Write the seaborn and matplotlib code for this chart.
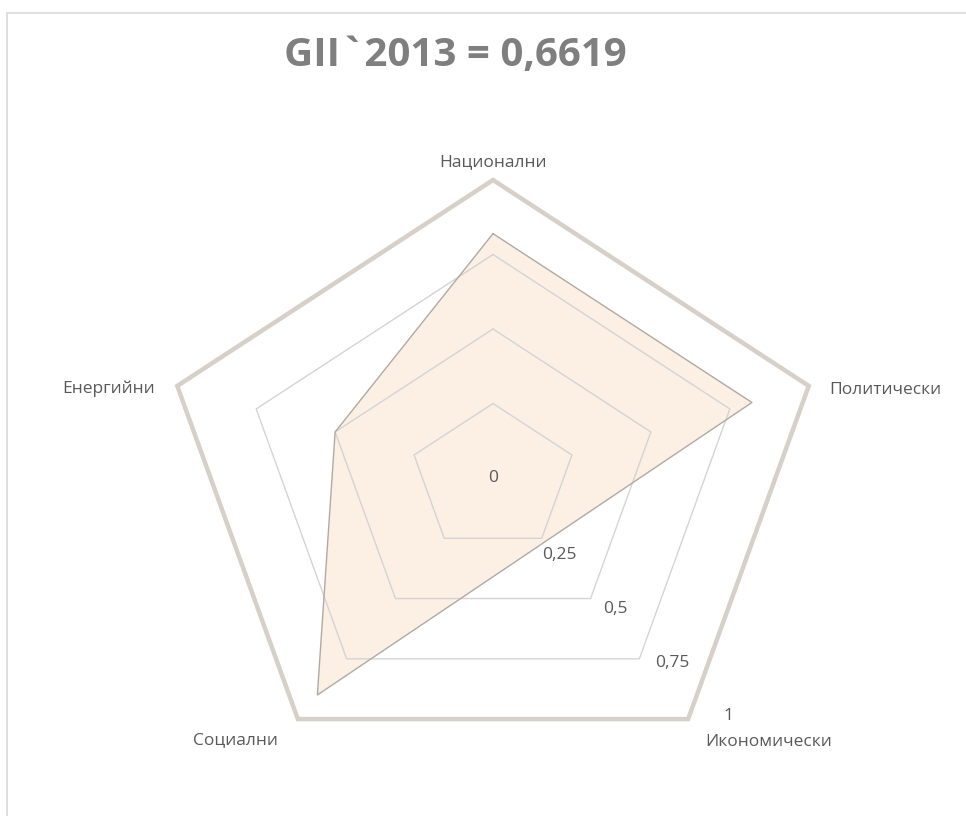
import numpy as np
import matplotlib
matplotlib.use("Agg")
import matplotlib.pyplot as plt
import seaborn as sns

# data
categories = ["Национални", "Политически", "Икономически", "Социални", "Енергийни"]
values = [0.82, 0.82, np.nan, 0.90, 0.50]   # Икономически has no value (line skips it)
grid_levels = [0.25, 0.5, 0.75, 1.0]
tick_values = [0, 0.25, 0.5, 0.75, 1]
tick_labels = ["0", "0,25", "0,5", "0,75", "1"]
title = "GII`2013 = 0,6619"

sns.set_style("white")
plt.rcParams["font.family"] = ["Open Sans", "DejaVu Sans"]

fig = plt.figure(figsize=(9.66, 8.16), dpi=100)
ax = fig.add_axes([0, 0, 1, 1])

# pixel geometry of the picture: centre (493, 478), radius 332 x 298 px
cx, cy, rx, ry = 493, 478, 332, 298
ax.set_xlim(-cx / rx, (966 - cx) / rx)
ax.set_ylim((cy - 816) / ry, cy / ry)
ax.axis("off")

n = len(categories)
angles = np.pi / 2 - 2 * np.pi * np.arange(n) / n   # clockwise from top
ux, uy = np.cos(angles), np.sin(angles)

# grid pentagons
for lvl in grid_levels:
    xs = np.append(ux, ux[0]) * lvl
    ys = np.append(uy, uy[0]) * lvl
    if lvl == 1.0:
        ax.plot(xs, ys, color="#d6d0c8", lw=3.2, solid_joinstyle="miter", zorder=3)
    else:
        ax.plot(xs, ys, color="#d4d4d4", lw=1.0, zorder=1)

# data series (skip missing value)
vals = np.array(values)
mask = ~np.isnan(vals)
px = (ux * np.nan_to_num(vals))[mask]
py = (uy * np.nan_to_num(vals))[mask]
ax.fill(px, py, facecolor="#fbe5d3", alpha=0.6, edgecolor="none", zorder=0)
ax.plot(np.append(px, px[0]), np.append(py, py[0]), color="#b0aaa5", lw=1.0, zorder=2)

# category labels
label_pos = [(0, "center", "bottom", 0, 10),
             (1, "left", "center", 20, -4),
             (2, "center", "top", 80, -15),
             (3, "center", "top", -62, -13),
             (4, "right", "center", -22, -3)]
for i, ha, va, ox, oy in label_pos:
    ax.annotate(categories[i], (ux[i], uy[i]), xytext=(ox, oy),
                textcoords="offset pixels", ha=ha, va=va,
                fontsize=12.5, color="#595959")

# value axis labels
for v, lab in zip(tick_values, tick_labels):
    tx = 0 if v == 0 else 0.03 + 0.68 * v
    ty = 0 if v == 0 else -(0.08 + 0.72 * v)
    ax.text(tx, ty, lab, ha="center", va="center",
            fontsize=12.5, color="#595959")

fig.text(0.471, 0.932, title, ha="center", va="center", fontsize=29,
         fontweight="bold", color="#7f7f7f")

# chart frame
fig.add_artist(plt.Rectangle((7 / 966, -0.1), 1.2, 1.1 - 13 / 816,
                             transform=fig.transFigure, fill=False,
                             edgecolor="#d9d9d9", lw=1.2))

fig.savefig("out.png", dpi=100)
